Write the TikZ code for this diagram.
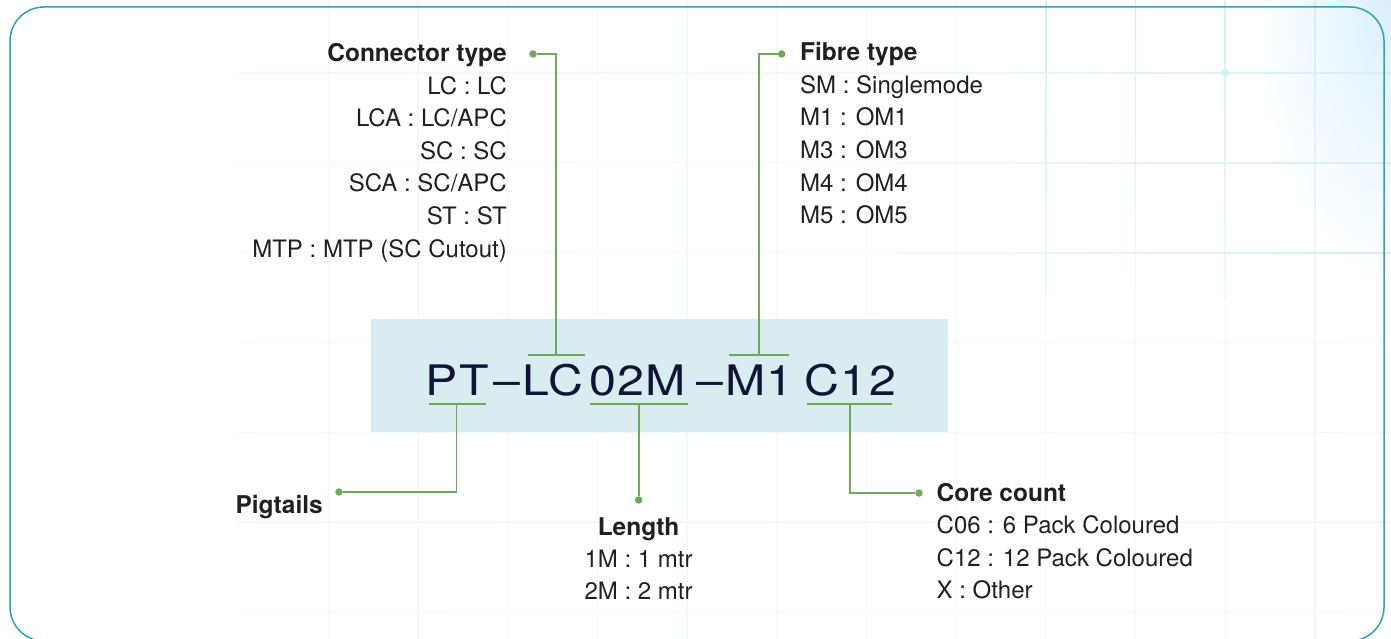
\documentclass[tikz,border=0pt]{standalone}
\usepackage{fontspec}
\setmainfont{TeX Gyre Heros}
\newfontfamily\codefont[FakeStretch=1.15,LetterSpace=3.5]{TeX Gyre Heros}
\definecolor{gr}{HTML}{6DAA5C}
\definecolor{txt}{HTML}{231F20}
\definecolor{navy}{HTML}{0F1438}
\definecolor{framec}{HTML}{2BA2B5}
\definecolor{boxbg}{HTML}{D9ECF0}
\definecolor{gridfaint}{HTML}{F2F9FB}
\definecolor{gridblue}{HTML}{D3EFF8}
\definecolor{cornerblue}{HTML}{DAEFFB}
\tikzset{
  conn/.style={draw=gr, line width=1.8pt},
  dotnode/.style={circle, fill=gr, inner sep=0pt, minimum size=7.5pt},
  hdr/.style={inner sep=0pt, text=txt, font=\fontsize{24.5}{30}\selectfont\bfseries},
  item/.style={inner sep=0pt, text=txt, font=\fontsize{24}{30}\selectfont},
  codeseg/.style={inner sep=0pt, text=navy, font=\codefont\fontsize{42}{50}\selectfont, anchor=base west},
  gridline/.style={draw=gridfaint, line width=1.2pt},
}
\begin{document}
\begin{tikzpicture}[x=1pt,y=-1pt]
\useasboundingbox (0,0) rectangle (1391,639);
\clip (0,0) rectangle (1391,639);
% corner glow
\shade[inner color=cornerblue, outer color=white] (1395,-5) ellipse [x radius=140, y radius=290];
% grid
\foreach \k in {1,...,12} \draw[gridline] ({238.5+89.7*\k},0) -- ({238.5+89.7*\k},639);
\foreach \k in {0,...,6} \draw[gridline] (238,{73+89.8*\k}) -- (1391,{73+89.8*\k});
\foreach \k in {9,...,12} \shade[top color=gridblue, bottom color=gridfaint] ({238.5+89.7*\k-0.6},0) rectangle ({238.5+89.7*\k+0.6},300);
\foreach \k in {0,1,2} \shade[left color=gridfaint, right color=gridblue] (900,{73+89.8*\k-0.6}) rectangle (1391,{73+89.8*\k+0.6});
\fill[gridblue] (1225.2,73) circle (4);
% frame
\draw[framec, line width=1.5pt, rounded corners=34pt] (10,7) rectangle (1384,641);
% code box
\node[fill=boxbg, minimum width=577pt, minimum height=113pt, inner sep=0pt, anchor=north west] (codebox) at (371,319) {};
\node[codeseg] (sPT) at (425.7,395) {PT};
\node[codeseg] (sD1) at (493,395) {–};
\node[codeseg] (sLC) at (522.1,395) {LC};
\node[codeseg] (s02M) at (588.9,395) {02M};
\node[codeseg] (sD2) at (696.5,395) {–};
\node[codeseg] (sM1) at (724.9,395) {M1};
\node[codeseg] (sC12) at (804.2,395) {C12};
% bracket coordinates
\coordinate (bPTl) at (429,404);   \coordinate (bPTr) at (486,404);   \coordinate (bPTm) at (456.5,404);
\coordinate (bLCl) at (528,355);   \coordinate (bLCr) at (585,355);   \coordinate (bLCm) at (556,355);
\coordinate (b02l) at (589.6,404); \coordinate (b02r) at (688,404);   \coordinate (b02m) at (638.6,404);
\coordinate (bM1l) at (728.5,355); \coordinate (bM1r) at (788.6,355); \coordinate (bM1m) at (759,355);
\coordinate (bCCl) at (806.6,404); \coordinate (bCCr) at (892,404);   \coordinate (bCCm) at (850,404);
% dots
\node[dotnode] (dCT) at (533,54) {};
\node[dotnode] (dFT) at (781.7,54) {};
\node[dotnode] (dPG) at (339,492) {};
\node[dotnode] (dLN) at (638.6,500) {};
\node[dotnode] (dCC) at (919,493) {};
% connectors
\draw[conn] (bPTl) -- (bPTr);
\draw[conn] (bLCl) -- (bLCr);
\draw[conn] (b02l) -- (b02r);
\draw[conn] (bM1l) -- (bM1r);
\draw[conn] (bCCl) -- (bCCr);
\draw[conn] (bLCm) |- (dCT);
\draw[conn] (bM1m) |- (dFT);
\draw[conn] (bPTm) |- (dPG);
\draw[conn] (b02m) -- (dLN);
\draw[conn] (bCCm) |- (dCC);
% labels
\node[hdr, anchor=base east] (ctH) at (507,61.7) {Connector type};
\foreach [count=\i] \t in {LC : LC, LCA : LC/APC, SC : SC, SCA : SC/APC, ST : ST, MTP : MTP (SC Cutout)}
  \node[item, anchor=base east] (ct\i) at (507,{61.7+32.55*\i}) {\t};
\node[hdr, anchor=base west] (ftH) at (800,61) {Fibre type};
\foreach [count=\i] \t in {SM : Singlemode, M1 : OM1, M3 : OM3, M4 : OM4, M5 : OM5}
  \node[item, anchor=base west] (ft\i) at (800,{61+32.5*\i}) {\t};
\node[hdr, anchor=base east] (pg) at (323,513) {Pigtails};
\node[hdr, anchor=base] (lnH) at (638.6,535) {Length};
\node[item, anchor=base] (ln1) at (638.6,567.2) {1M : 1 mtr};
\node[item, anchor=base] (ln2) at (638.6,599.5) {2M : 2 mtr};
\node[hdr, anchor=base west] (ccH) at (936.5,501) {Core count};
\foreach [count=\i] \t in {C06 : 6 Pack Coloured, C12 : 12 Pack Coloured, X : Other}
  \node[item, anchor=base west] (cc\i) at (936.5,{501+32.5*\i}) {\t};
\end{tikzpicture}
\end{document}
